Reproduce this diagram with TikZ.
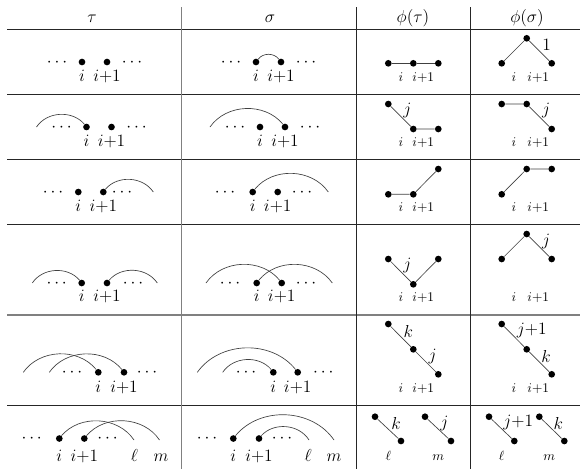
\RequirePackage{fix-cm}
\documentclass[tikz,border=0pt]{standalone}
\begin{document}
\begin{tikzpicture}[x=0.75pt,y=-0.75pt,
  every node/.style={font=\fontsize{13}{15}\selectfont},
  rule/.style={draw=black!85, line width=0.7pt},
  softrule/.style={draw=black!50, line width=1pt},
  vtx/.style={circle, fill=black, inner sep=0pt, minimum size=5pt},
  arcl/.style={draw=black!75, line width=0.5pt, bend left=53},
  edg/.style={draw=black!75, line width=0.5pt},
  lbl/.style={anchor=base, inner sep=0pt},
  slbl/.style={anchor=base, inner sep=0pt, font=\fontsize{10}{12}\selectfont},
  dts/.style={anchor=base, inner sep=0pt},
  elbl/.style={inner sep=0pt}]
\useasboundingbox (0,0) rectangle (580,469);
% table rules
\draw[rule] (7,29) -- (580,29);
\draw[rule] (7,94.5) -- (580,94.5);
\draw[rule] (7,159.5) -- (580,159.5);
\draw[rule] (7,224.5) -- (580,224.5);
\draw[softrule] (7,315) -- (580,315);
\draw[rule] (7,405) -- (580,405);
\draw[softrule] (181.5,7) -- (181.5,469);
\draw[rule] (356.5,7) -- (356.5,469);
\draw[rule] (470.5,7) -- (470.5,469);
% header
\node[lbl] (h1) at (92,22.2) {$\tau$};
\node[lbl] (h2) at (270,22.2) {$\sigma$};
\node[lbl] (h3) at (413,22.5) {$\phi(\tau)$};
\node[lbl] (h4) at (527,22.5) {$\phi(\sigma)$};

% ---------- Row 1 ----------
\node[dts] (t1d1) at (57,66.3) {$\cdots$};
\node[vtx] (t1i) at (82,62) {};
\node[vtx] (t1j) at (107,62) {};
\node[dts] (t1d2) at (132,66.3) {$\cdots$};
\node[lbl] (t1li) at (82,81.5) {$i$};
\node[lbl] (t1lj) at (107,81.5) {$i{+}1$};

\node[dts] (s1d1) at (231,66.3) {$\cdots$};
\node[vtx] (s1i) at (256,62) {};
\node[vtx] (s1j) at (281,62) {};
\node[dts] (s1d2) at (306,66.3) {$\cdots$};
\node[lbl] (s1li) at (256,81.5) {$i$};
\node[lbl] (s1lj) at (281,81.5) {$i{+}1$};
\draw[arcl] (s1i) to (s1j);

\node[vtx] (p1a) at (388.3,63.3) {};
\node[vtx] (p1b) at (413.3,63.3) {};
\node[vtx] (p1c) at (438.3,63.3) {};
\draw[edg] (p1a) -- (p1b) -- (p1c);
\node[slbl] (p1li) at (401,81.5) {$i$};
\node[slbl] (p1lj) at (423.3,81.5) {$i{+}1$};

\node[vtx] (q1a) at (501.7,63.3) {};
\node[vtx] (q1b) at (526.7,38.3) {};
\node[vtx] (q1c) at (551.7,63.3) {};
\draw[edg] (q1a) -- (q1b) -- (q1c);
\node[elbl] (q1e) at (546.7,45) {$1$};
\node[slbl] (q1li) at (514,81.5) {$i$};
\node[slbl] (q1lj) at (538.3,81.5) {$i{+}1$};

% ---------- Row 2 ----------
\coordinate (t2s) at (36.5,127);
\node[dts] (t2d1) at (61.5,131.3) {$\cdots$};
\node[vtx] (t2i) at (86.5,127) {};
\node[vtx] (t2j) at (111.5,127) {};
\node[dts] (t2d2) at (136.5,131.3) {$\cdots$};
\node[lbl] (t2li) at (86.5,146.5) {$i$};
\node[lbl] (t2lj) at (111.5,146.5) {$i{+}1$};
\draw[arcl] (t2s) to (t2i);

\coordinate (s2s) at (210,127);
\node[dts] (s2d1) at (235,131.3) {$\cdots$};
\node[vtx] (s2i) at (260,127) {};
\node[vtx] (s2j) at (285,127) {};
\node[dts] (s2d2) at (310,131.3) {$\cdots$};
\node[lbl] (s2li) at (260,146.5) {$i$};
\node[lbl] (s2lj) at (285,146.5) {$i{+}1$};
\draw[arcl] (s2s) to (s2j);

\node[vtx] (p2a) at (388.3,104) {};
\node[vtx] (p2b) at (413.3,129) {};
\node[vtx] (p2c) at (438.3,129) {};
\draw[edg] (p2a) -- (p2b) -- (p2c);
\node[elbl] (p2e) at (407.3,110.7) {$j$};
\node[slbl] (p2li) at (401,146.5) {$i$};
\node[slbl] (p2lj) at (423.3,146.5) {$i{+}1$};

\node[vtx] (q2a) at (501.7,104) {};
\node[vtx] (q2b) at (526.7,104) {};
\node[vtx] (q2c) at (551.7,129) {};
\draw[edg] (q2a) -- (q2b) -- (q2c);
\node[elbl] (q2e) at (546,110.7) {$j$};
\node[slbl] (q2li) at (514,146.5) {$i$};
\node[slbl] (q2lj) at (538.3,146.5) {$i{+}1$};

% ---------- Row 3 ----------
\node[dts] (t3d1) at (53,196.3) {$\cdots$};
\node[vtx] (t3i) at (78.3,192) {};
\node[vtx] (t3j) at (103.3,192) {};
\node[dts] (t3d2) at (122,196.3) {$\cdots$};
\coordinate (t3e) at (153.3,192);
\node[lbl] (t3li) at (78.3,211) {$i$};
\node[lbl] (t3lj) at (103.3,211) {$i{+}1$};
\draw[arcl] (t3j) to (t3e);

\node[dts] (s3d1) at (225,196.3) {$\cdots$};
\node[vtx] (s3i) at (252.7,192) {};
\node[vtx] (s3j) at (277.7,192) {};
\node[dts] (s3d2) at (302,196.3) {$\cdots$};
\coordinate (s3e) at (328.3,192);
\node[lbl] (s3li) at (252.7,211) {$i$};
\node[lbl] (s3lj) at (277.7,211) {$i{+}1$};
\draw[arcl] (s3i) to (s3e);

\node[vtx] (p3a) at (388.3,194.3) {};
\node[vtx] (p3b) at (413.3,194.3) {};
\node[vtx] (p3c) at (438.3,169) {};
\draw[edg] (p3a) -- (p3b) -- (p3c);
\node[slbl] (p3li) at (401,211) {$i$};
\node[slbl] (p3lj) at (423.3,211) {$i{+}1$};

\node[vtx] (q3a) at (501.7,194.3) {};
\node[vtx] (q3b) at (526.7,169) {};
\node[vtx] (q3c) at (551.7,169) {};
\draw[edg] (q3a) -- (q3b) -- (q3c);
\node[slbl] (q3li) at (514,211) {$i$};
\node[slbl] (q3lj) at (538.3,211) {$i{+}1$};

% ---------- Row 4 ----------
\coordinate (t4s) at (32.3,283);
\node[dts] (t4d1) at (56.7,287.3) {$\cdots$};
\node[vtx] (t4i) at (81.7,283) {};
\node[vtx] (t4j) at (107,283) {};
\node[dts] (t4d2) at (133,287.3) {$\cdots$};
\coordinate (t4e) at (157.3,283);
\node[lbl] (t4li) at (81.7,301.5) {$i$};
\node[lbl] (t4lj) at (107,301.5) {$i{+}1$};
\draw[arcl] (t4s) to (t4i);
\draw[arcl] (t4j) to (t4e);

\coordinate (s4s) at (206,283);
\node[dts] (s4d1) at (230,287.3) {$\cdots$};
\node[vtx] (s4i) at (256.7,283) {};
\node[vtx] (s4j) at (281.7,283) {};
\node[dts] (s4d2) at (306,287.3) {$\cdots$};
\coordinate (s4e) at (332.3,283);
\node[lbl] (s4li) at (256.7,301.5) {$i$};
\node[lbl] (s4lj) at (281.7,301.5) {$i{+}1$};
\draw[arcl] (s4s) to (s4j);
\draw[arcl] (s4i) to (s4e);

\node[vtx] (p4a) at (388.3,259) {};
\node[vtx] (p4b) at (413.3,284.3) {};
\node[vtx] (p4c) at (438.3,259) {};
\draw[edg] (p4a) -- (p4b) -- (p4c);
\node[elbl] (p4e) at (407.3,265) {$j$};
\node[slbl] (p4li) at (401,301.5) {$i$};
\node[slbl] (p4lj) at (423.3,301.5) {$i{+}1$};

\node[vtx] (q4a) at (501.7,259) {};
\node[vtx] (q4b) at (526.7,234) {};
\node[vtx] (q4c) at (551.7,259) {};
\draw[edg] (q4a) -- (q4b) -- (q4c);
\node[elbl] (q4e) at (546,241) {$j$};
\node[slbl] (q4li) at (514,301.5) {$i$};
\node[slbl] (q4lj) at (538.3,301.5) {$i{+}1$};

% ---------- Row 5 ----------
\coordinate (t5s1) at (23.3,372.3);
\coordinate (t5s2) at (49.3,372.3);
\node[dts] (t5d1) at (72,376.6) {$\cdots$};
\node[vtx] (t5i) at (98.3,372.3) {};
\node[vtx] (t5j) at (124,372.3) {};
\node[dts] (t5d2) at (147,376.6) {$\cdots$};
\node[lbl] (t5li) at (98.3,392) {$i$};
\node[lbl] (t5lj) at (124,392) {$i{+}1$};
\draw[arcl] (t5s1) to (t5i);
\draw[arcl] (t5s2) to (t5j);

\coordinate (s5so) at (197.3,372.3);
\coordinate (s5si) at (222.7,372.3);
\node[dts] (s5d1) at (246,376.6) {$\cdots$};
\node[vtx] (s5i) at (273.3,372.3) {};
\node[vtx] (s5j) at (297.7,372.3) {};
\node[dts] (s5d2) at (323.3,376.6) {$\cdots$};
\node[lbl] (s5li) at (273.3,392) {$i$};
\node[lbl] (s5lj) at (297.7,392) {$i{+}1$};
\draw[arcl] (s5so) to (s5j);
\draw[arcl] (s5si) to (s5i);

\node[vtx] (p5a) at (388.3,324) {};
\node[vtx] (p5b) at (413.3,349.3) {};
\node[vtx] (p5c) at (438.3,374.3) {};
\draw[edg] (p5a) -- (p5b) -- (p5c);
\node[elbl] (p5e1) at (408.3,331.7) {$k$};
\node[elbl] (p5e2) at (432.7,356) {$j$};
\node[slbl] (p5li) at (401,392) {$i$};
\node[slbl] (p5lj) at (423.3,392) {$i{+}1$};

\node[vtx] (q5a) at (501.7,324) {};
\node[vtx] (q5b) at (526.7,349.3) {};
\node[vtx] (q5c) at (551.7,374.3) {};
\draw[edg] (q5a) -- (q5b) -- (q5c);
\node[elbl] (q5e1) at (531.7,330) {$j{+}1$};
\node[elbl] (q5e2) at (546,356.7) {$k$};
\node[slbl] (q5li) at (514,392) {$i$};
\node[slbl] (q5lj) at (538.3,392) {$i{+}1$};

% ---------- Row 6 ----------
\node[dts] (t6d1) at (31.7,442.8) {$\cdots$};
\node[vtx] (t6i) at (59.3,438.5) {};
\node[vtx] (t6j) at (84.3,438.5) {};
\node[dts] (t6d2) at (107.5,442.8) {$\cdots$};
\coordinate (t6l) at (134,440);
\coordinate (t6m) at (159.5,440);
\node[lbl] (t6li) at (59.3,461) {$i$};
\node[lbl] (t6lj) at (84.3,461) {$i{+}1$};
\node[lbl] (t6ll) at (134.5,461) {$\ell$};
\node[lbl] (t6lm) at (161,461) {$m$};
\draw[arcl] (t6i) to (t6l);
\draw[arcl] (t6j) to (t6m);

\node[dts] (s6d1) at (207,442.8) {$\cdots$};
\node[vtx] (s6i) at (233.3,438.5) {};
\node[vtx] (s6j) at (259,438.5) {};
\node[dts] (s6d2) at (282,442.8) {$\cdots$};
\coordinate (s6l) at (309,440);
\coordinate (s6m) at (334,440);
\node[lbl] (s6li) at (233.3,461) {$i$};
\node[lbl] (s6lj) at (259,461) {$i{+}1$};
\node[lbl] (s6ll) at (308.3,461) {$\ell$};
\node[lbl] (s6lm) at (334,461) {$m$};
\draw[arcl] (s6i) to (s6m);
\draw[arcl] (s6j) to (s6l);

\node[vtx] (p6a) at (375,416.7) {};
\node[vtx] (p6b) at (401,441) {};
\node[vtx] (p6c) at (425,416.7) {};
\node[vtx] (p6d) at (451,441) {};
\draw[edg] (p6a) -- (p6b);
\draw[edg] (p6c) -- (p6d);
\node[elbl] (p6e1) at (396,423.3) {$k$};
\node[elbl] (p6e2) at (444.3,423.3) {$j$};
\node[slbl] (p6ll) at (388.3,460) {$\ell$};
\node[slbl] (p6lm) at (438.3,460) {$m$};

\node[vtx] (q6a) at (489,416.7) {};
\node[vtx] (q6b) at (514.3,441) {};
\node[vtx] (q6c) at (539.3,416.7) {};
\node[vtx] (q6d) at (564.3,441) {};
\draw[edg] (q6a) -- (q6b);
\draw[edg] (q6c) -- (q6d);
\node[elbl] (q6e1) at (518.3,422.3) {$j{+}1$};
\node[elbl] (q6e2) at (558.3,423.3) {$k$};
\node[slbl] (q6ll) at (501.7,460) {$\ell$};
\node[slbl] (q6lm) at (549.3,460) {$m$};
\end{tikzpicture}
\end{document}
